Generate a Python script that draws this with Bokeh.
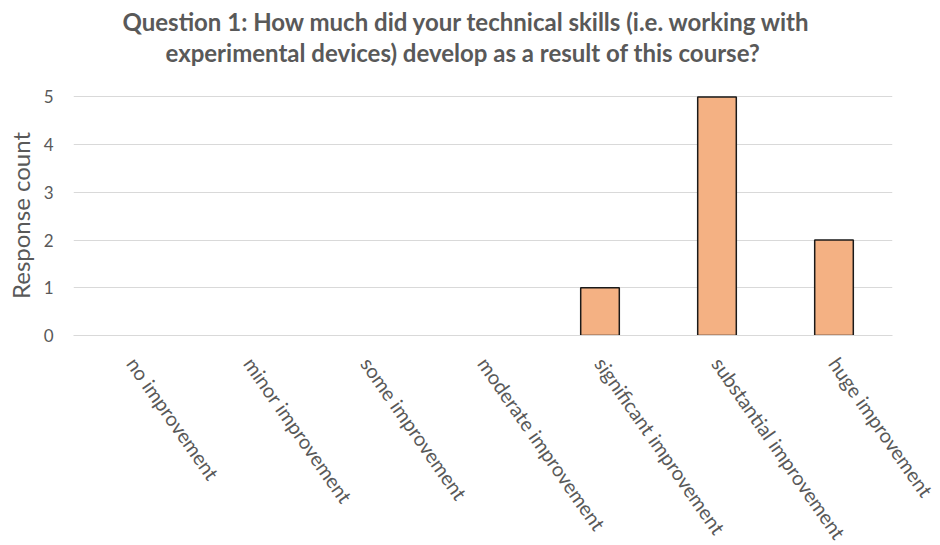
from bokeh.plotting import figure
from bokeh.models import FactorRange, FixedTicker, Range1d, Title, ColumnDataSource
from bokeh.embed import file_html
from bokeh.resources import INLINE

categories = ["no improvement", "minor improvement", "some improvement",
              "moderate improvement", "significant improvement",
              "substantial improvement", "huge improvement"]
counts = [0, 0, 0, 0, 1, 5, 2]
y_ticks = [0, 1, 2, 3, 4, 5]
title_line1 = "Question 1: How much did your technical skills (i.e. working with"
title_line2 = "experimental devices) develop as a result of this course?"

FONT = "Lato"
GREY = "#595959"

source = ColumnDataSource(dict(x=categories, top=counts,
                               la=[1.0 if c > 0 else 0.0 for c in counts]))

p = figure(x_range=FactorRange(factors=categories, range_padding=0),
           y_range=Range1d(0, 5.03),
           frame_width=819, frame_height=240,
           output_backend="svg", toolbar_location=None,
           min_border_left=73, min_border_right=48, min_border_top=95,
           min_border_bottom=210)
p.title = None
# spacer between the title block and the plot frame
p.add_layout(Title(text=" ", text_font_size="1px", standoff=26), "above")
p.add_layout(Title(text=title_line2, align="left", offset=92, text_font=FONT,
                   text_font_size="24px", text_font_style="bold", text_color=GREY,
                   standoff=0), "above")
p.add_layout(Title(text=title_line1, align="left", offset=49, text_font=FONT,
                   text_font_size="24px", text_font_style="bold", text_color=GREY,
                   standoff=0), "above")
p.outline_line_color = None

p.vbar(x="x", top="top", width=0.33, source=source, fill_color="#F4B183",
       line_color="#1a1a1a", line_width=1.5, line_alpha="la")

p.xgrid.grid_line_color = None
p.ygrid.grid_line_color = "#d9d9d9"
p.ygrid.grid_line_width = 1.2
p.yaxis.ticker = FixedTicker(ticks=y_ticks)
p.yaxis.axis_line_color = None
p.yaxis.major_tick_line_color = None
p.yaxis.minor_tick_line_color = None
p.yaxis.major_label_text_font = FONT
p.yaxis.major_label_text_font_size = "17px"
p.yaxis.major_label_text_color = GREY
p.yaxis.major_label_standoff = 14
p.yaxis.axis_label = "Response count"
p.yaxis.axis_label_text_font = FONT
p.yaxis.axis_label_text_font_size = "24px"
p.yaxis.axis_label_text_font_style = "normal"
p.yaxis.axis_label_text_color = GREY
p.yaxis.axis_label_standoff = 6

p.xaxis.axis_line_color = "#d9d9d9"
p.xaxis.axis_line_width = 1.2
p.xaxis.major_tick_line_color = None
p.xaxis.minor_tick_line_color = None
p.xaxis.major_label_orientation = -0.96
p.xaxis.major_label_text_font = FONT
p.xaxis.major_label_text_font_size = "20px"
p.xaxis.major_label_text_color = GREY
p.xaxis.major_label_standoff = 18

open("out.html", "w").write(file_html(p, INLINE))
